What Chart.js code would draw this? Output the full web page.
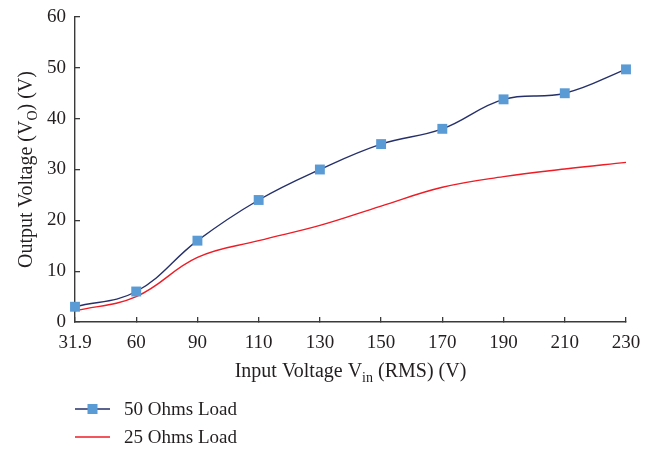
<!DOCTYPE html>
<html><head><meta charset="utf-8">
<script src="https://cdn.jsdelivr.net/npm/chart.js@4"></script>
<style>html,body{margin:0;padding:0;background:#fff}#wrap{width:659px;height:449px}</style>
</head><body><div id="wrap"><canvas id="c" width="659" height="449"></canvas></div>
<script>
const categories = ['31.9','60','90','110','130','150','170','190','210','230'];
const load50 = [3, 6, 16, 24, 30, 35, 38, 43.8, 45, 49.7];
const load25 = [2.2, 5, 12.7, 16, 19, 22.8, 26.5, 28.6, 30.1, 31.4];
const seriesNames = ['50 Ohms Load', '25 Ohms Load'];
const xTitleParts = ['Input Voltage V', 'in', ' (RMS) (V)'];
const yTitleParts = ['Output Voltage (V', 'O', ') (V)'];

const FONT = "'Liberation Serif', 'DejaVu Serif', serif";
const TEXT = '#231f20';
const AXIS = '#3a3a3a';

function drawSubText(ctx, parts, size, subSize, subShift) {
  ctx.font = size + 'px ' + FONT;
  const w0 = ctx.measureText(parts[0]).width;
  const w2 = ctx.measureText(parts[2]).width;
  ctx.font = subSize + 'px ' + FONT;
  const w1 = ctx.measureText(parts[1]).width;
  const total = w0 + w1 + w2;
  let x = -total / 2;
  ctx.textAlign = 'left';
  ctx.textBaseline = 'alphabetic';
  ctx.font = size + 'px ' + FONT;
  ctx.fillText(parts[0], x, 0); x += w0;
  ctx.font = subSize + 'px ' + FONT;
  ctx.fillText(parts[1], x, subShift); x += w1;
  ctx.font = size + 'px ' + FONT;
  ctx.fillText(parts[2], x, 0);
}

const extras = {
  id: 'extras',
  afterDraw(chart) {
    const ctx = chart.ctx;
    const ca = chart.chartArea;
    ctx.save();
    ctx.fillStyle = TEXT;
    // x title
    ctx.save();
    ctx.translate((ca.left + ca.right) / 2, 377);
    drawSubText(ctx, xTitleParts, 20, 14, 5);
    ctx.restore();
    // y title
    ctx.save();
    ctx.translate(32, (ca.top + ca.bottom) / 2);
    ctx.rotate(-Math.PI / 2);
    drawSubText(ctx, yTitleParts, 20, 14, 5);
    ctx.restore();
    // legend
    chart.data.datasets.forEach((ds, i) => {
      const y = 409 + i * 28;
      ctx.strokeStyle = ds.borderColor;
      ctx.lineWidth = ds.borderWidth;
      ctx.beginPath();
      ctx.moveTo(75, y);
      ctx.lineTo(110, y);
      ctx.stroke();
      if (ds.pointRadius > 0) {
        const s = 10;
        ctx.fillStyle = ds.pointBackgroundColor;
        ctx.fillRect(92.5 - s / 2, y - s / 2, s, s);
      }
      ctx.fillStyle = TEXT;
      ctx.font = '19px ' + FONT;
      ctx.textAlign = 'left';
      ctx.textBaseline = 'middle';
      ctx.fillText(ds.label, 124, y + 1);
    });
    ctx.restore();
  }
};

new Chart(document.getElementById('c'), {
  type: 'line',
  data: {
    labels: categories,
    datasets: [
      {
        label: seriesNames[0],
        data: load50,
        borderColor: '#25306a',
        borderWidth: 1.4,
        tension: 0.4,
        pointStyle: 'rect',
        pointRadius: 7,
        pointBorderWidth: 0,
        pointBackgroundColor: '#5b9bd5',
        pointBorderColor: '#5b9bd5',
        fill: false
      },
      {
        label: seriesNames[1],
        data: load25,
        borderColor: '#ee1c25',
        borderWidth: 1.4,
        tension: 0.4,
        pointRadius: 0,
        fill: false
      }
    ]
  },
  options: {
    responsive: false,
    animation: false,
    devicePixelRatio: 1,
    layout: { padding: { top: 17, right: 33, left: 0, bottom: 0 } },
    plugins: { legend: { display: false }, tooltip: { enabled: false } },
    scales: {
      x: {
        type: 'category',
        offset: false,
        grid: { drawOnChartArea: false, tickLength: -5, color: AXIS, lineWidth: 1.3 },
        border: { color: AXIS, width: 1.4 },
        ticks: { autoSkip: false, maxRotation: 0, color: TEXT, padding: 15, font: { family: FONT, size: 19 } },
        afterFit(scale) { scale.height = 127; scale.paddingLeft = 0; scale.paddingRight = 0; }
      },
      y: {
        min: 0, max: 60,
        grid: { drawOnChartArea: false, tickLength: -5, color: AXIS, lineWidth: 1.3 },
        border: { color: AXIS, width: 1.4 },
        ticks: { stepSize: 10, color: TEXT, padding: 14, font: { family: FONT, size: 19 } },
        afterFit(scale) { scale.width = 75; scale.paddingTop = 0; scale.paddingBottom = 0; }
      }
    }
  },
  plugins: [extras]
});
</script>
</body></html>
